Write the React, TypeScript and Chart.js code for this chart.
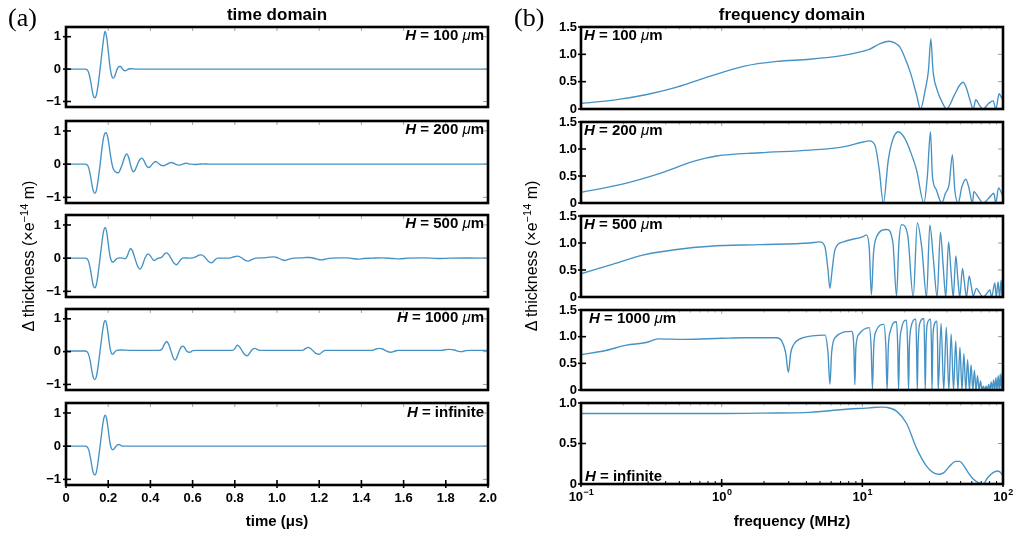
import React, { useEffect, useRef } from 'react';
import { Chart, registerables } from 'chart.js';

Chart.register(...registerables);

type Pt = [number, number];

// ---------------- tick values / labels ----------------
const timeTicks = [0, 0.2, 0.4, 0.6, 0.8, 1.0, 1.2, 1.4, 1.6, 1.8, 2.0];
const freqMajor = [0.1, 1, 10, 100];
const freqExp = ['−1', '0', '1', '2'];
const freqMinor = [0.2, 0.3, 0.4, 0.5, 0.6, 0.7, 0.8, 0.9, 2, 3, 4, 5, 6, 7, 8, 9, 20, 30, 40, 50, 60, 70, 80, 90];
const timeYTicks = [-1, 0, 1];
const freqYTicks = [0, 0.5, 1.0, 1.5];
const infYTicks = [0, 0.5, 1.0];

// ---------------- time domain series (t in µs, value ×e-14 m) ----------------
const td100: Pt[] = [[0,0],[0.09,0],[0.1,-0.02],[0.108,-0.12],[0.116,-0.35],[0.123,-0.62],[0.13,-0.83],[0.137,-0.89],[0.144,-0.8],[0.15,-0.58],[0.156,-0.3],[0.162,0.03],[0.168,0.38],[0.174,0.72],[0.18,1.02],[0.185,1.16],[0.19,1.08],[0.196,0.82],[0.202,0.45],[0.208,0.1],[0.214,-0.14],[0.219,-0.25],[0.224,-0.28],[0.231,-0.22],[0.238,-0.08],[0.245,0.03],[0.252,0.08],[0.258,0.08],[0.266,0.02],[0.274,-0.04],[0.282,-0.05],[0.29,-0.02],[0.3,0.01],[0.31,0.01],[0.33,0],[2.0,0]];

const td200: Pt[] = [[0,0],[0.09,0],[0.1,-0.02],[0.108,-0.12],[0.116,-0.35],[0.123,-0.62],[0.13,-0.82],[0.137,-0.88],[0.144,-0.79],[0.15,-0.57],[0.157,-0.25],[0.164,0.12],[0.171,0.5],[0.178,0.8],[0.184,0.93],[0.19,0.95],[0.196,0.86],[0.203,0.62],[0.21,0.3],[0.218,0.0],[0.226,-0.17],[0.236,-0.24],[0.248,-0.26],[0.258,-0.15],[0.268,0.02],[0.278,0.22],[0.288,0.31],[0.297,0.2],[0.305,0.0],[0.312,-0.16],[0.319,-0.23],[0.328,-0.17],[0.339,0.0],[0.35,0.14],[0.359,0.18],[0.368,0.12],[0.377,0.0],[0.385,-0.08],[0.392,-0.1],[0.4,-0.07],[0.409,0.0],[0.418,0.06],[0.425,0.08],[0.433,0.05],[0.443,0.0],[0.452,-0.04],[0.461,-0.05],[0.47,-0.03],[0.48,0.0],[0.49,0.04],[0.5,0.05],[0.51,0.03],[0.518,0.0],[0.527,-0.02],[0.535,-0.03],[0.544,-0.02],[0.553,0.0],[0.562,0.02],[0.572,0.03],[0.582,0.01],[0.592,0.0],[0.611,-0.01],[0.63,0.0],[0.65,0.01],[0.68,0.0],[2.0,0]];

const td500: Pt[] = [[0,0],[0.09,0],[0.1,-0.02],[0.108,-0.12],[0.116,-0.35],[0.123,-0.62],[0.13,-0.84],[0.137,-0.89],[0.144,-0.8],[0.15,-0.57],[0.156,-0.28],[0.162,0.04],[0.168,0.35],[0.174,0.65],[0.18,0.86],[0.186,0.92],[0.192,0.82],[0.198,0.56],[0.204,0.25],[0.21,0.02],[0.217,-0.1],[0.224,-0.12],[0.232,-0.07],[0.242,-0.01],[0.256,0.01],[0.268,0.0],[0.28,-0.02],[0.29,0.06],[0.298,0.2],[0.306,0.29],[0.315,0.22],[0.325,0.03],[0.338,-0.22],[0.351,-0.33],[0.362,-0.22],[0.374,0.0],[0.383,0.1],[0.39,0.13],[0.4,0.07],[0.41,-0.03],[0.417,-0.07],[0.427,-0.04],[0.437,0.0],[0.447,0.01],[0.458,0.06],[0.467,0.13],[0.477,0.16],[0.488,0.1],[0.5,-0.03],[0.512,-0.15],[0.524,-0.2],[0.535,-0.12],[0.547,-0.02],[0.56,0.01],[0.58,0.0],[0.6,0.01],[0.615,0.04],[0.63,0.09],[0.643,0.1],[0.656,0.04],[0.67,-0.06],[0.68,-0.12],[0.69,-0.14],[0.703,-0.07],[0.718,0.0],[0.74,0.0],[0.77,0.0],[0.79,0.03],[0.812,0.06],[0.83,0.02],[0.848,-0.06],[0.864,-0.09],[0.882,-0.04],[0.9,0.0],[0.94,0.01],[0.965,0.03],[0.983,0.04],[1.0,0.02],[1.02,-0.04],[1.038,-0.07],[1.058,-0.03],[1.08,0.0],[1.12,0.01],[1.14,0.02],[1.156,0.02],[1.18,-0.01],[1.195,-0.04],[1.212,-0.05],[1.235,-0.02],[1.26,0.0],[1.3,0.01],[1.33,0.01],[1.355,-0.01],[1.385,-0.03],[1.41,-0.01],[1.45,0.0],[1.5,0.01],[1.55,-0.01],[1.58,-0.02],[1.62,0.0],[1.7,0.01],[1.76,-0.01],[1.82,0.0],[1.9,0.005],[2.0,0]];

const td1000: Pt[] = [[0,0.02],[0.09,0.02],[0.1,0.0],[0.108,-0.1],[0.116,-0.33],[0.123,-0.6],[0.13,-0.8],[0.137,-0.85],[0.144,-0.76],[0.15,-0.54],[0.156,-0.26],[0.162,0.05],[0.168,0.36],[0.174,0.66],[0.18,0.88],[0.186,0.95],[0.192,0.86],[0.198,0.62],[0.204,0.32],[0.21,0.07],[0.216,-0.06],[0.222,-0.08],[0.23,-0.02],[0.24,0.04],[0.26,0.05],[0.3,0.04],[0.44,0.04],[0.455,0.08],[0.466,0.22],[0.477,0.31],[0.487,0.22],[0.497,0.03],[0.507,-0.17],[0.517,-0.26],[0.527,-0.15],[0.537,0.03],[0.547,0.15],[0.556,0.17],[0.565,0.09],[0.575,0.0],[0.588,-0.02],[0.6,0.03],[0.62,0.04],[0.79,0.04],[0.8,0.09],[0.812,0.2],[0.824,0.13],[0.835,0.02],[0.847,-0.09],[0.859,-0.13],[0.87,-0.05],[0.882,0.06],[0.896,0.1],[0.908,0.06],[0.92,0.04],[1.12,0.04],[1.135,0.09],[1.148,0.13],[1.16,0.09],[1.172,0.02],[1.186,-0.06],[1.2,-0.08],[1.213,-0.02],[1.228,0.04],[1.45,0.04],[1.47,0.08],[1.485,0.1],[1.5,0.08],[1.515,0.03],[1.539,-0.02],[1.56,0.02],[1.575,0.04],[1.78,0.04],[1.8,0.06],[1.82,0.07],[1.84,0.05],[1.86,0.01],[1.875,0.0],[1.895,0.03],[1.92,0.04],[2.0,0.04]];

const tdInf: Pt[] = [[0,0],[0.09,0],[0.1,-0.02],[0.108,-0.12],[0.116,-0.35],[0.123,-0.62],[0.13,-0.82],[0.137,-0.87],[0.144,-0.78],[0.15,-0.56],[0.156,-0.28],[0.162,0.03],[0.168,0.34],[0.174,0.64],[0.18,0.86],[0.186,0.93],[0.192,0.84],[0.198,0.6],[0.204,0.3],[0.21,0.05],[0.216,-0.08],[0.222,-0.11],[0.228,-0.08],[0.236,-0.01],[0.244,0.04],[0.252,0.05],[0.26,0.02],[0.27,0],[2.0,0]];

// ---------------- frequency domain series (MHz, value ×e-14 m) ----------------
const fd100: Pt[] = [[0.1,0.1],[0.19,0.18],[0.3,0.27],[0.48,0.4],[0.83,0.6],[1.43,0.78],[2.46,0.87],[4.24,0.91],[7.32,0.98],[9.5,1.04],[11.2,1.09],[13.5,1.2],[15.5,1.24],[17,1.21],[18.5,1.13],[20.2,0.92],[22,0.66],[24.3,0.26],[25.9,0],[28,0.35],[29.5,0.7],[30.7,1.28],[31.8,0.7],[34,0.35],[37,0.12],[39.7,0],[45,0.25],[49,0.43],[52.1,0.49],[55,0.38],[58,0.18],[61.4,0],[64.1,0.17],[68,0.07],[72.2,0],[79,0.1],[85.1,0.15],[88.9,0],[93.9,0.28],[97,0.22],[100,0.17]];

const fd200: Pt[] = [[0.1,0.2],[0.19,0.34],[0.365,0.55],[0.63,0.77],[0.92,0.87],[1.87,0.93],[4.24,0.98],[7.32,1.04],[10.15,1.13],[11.2,1.15],[12.3,1.07],[13.2,0.61],[14.1,0],[15.3,0.8],[16.5,1.18],[18,1.32],[20,1.2],[22,0.95],[24.3,0.61],[27.4,0],[29,0.5],[30.5,1.32],[31.5,0.5],[33.5,0.25],[36.7,0],[39,0.18],[41.4,0.34],[43.7,0.89],[45.4,0.25],[48,0],[51,0.3],[54.4,0.44],[57,0.3],[60.7,0],[62,0.21],[67,0.1],[72.2,0],[80,0.1],[86,0.18],[88.9,0],[92.9,0.28],[100,0.12]];

const fd500: Pt[] = [[0.1,0.43],[0.16,0.59],[0.28,0.78],[0.48,0.88],[0.83,0.94],[1.87,0.97],[4.24,1.0],[4.99,1.02],[5.42,0.93],[5.7,0.5],[5.88,0.16],[6.1,0.5],[6.38,0.87],[7.32,1.02],[10.15,1.12],[10.7,1.15],[11.2,0.9],[11.6,0.04],[12.0,0.8],[12.6,1.11],[14.9,1.25],[16.5,1.0],[17.5,0.02],[18.2,1.0],[19.0,1.34],[21,1.15],[23.0,0],[24.6,1.37],[26.5,0.9],[28.6,0],[30.2,1.33],[32,0.7],[34.0,0],[35.9,1.2],[37.5,0.6],[39.2,0],[41.0,1.02],[42.6,0.5],[44.3,0],[46.2,0.76],[47.7,0.35],[49.3,0],[51.5,0.53],[53,0.3],[55.0,0],[57.5,0.39],[59.5,0.2],[61.4,0.02],[64.8,0.16],[68,0.08],[72.2,0.0],[76,0.05],[80.5,0.13],[83,0.0],[87.5,0.26],[89.5,0.0],[92.3,0.28],[94.5,0],[97,0.31],[98.5,0.0],[100,0.2]];

const fd1000: Pt[] = [[0.1,0.66],[0.15,0.74],[0.21,0.84],[0.29,0.89],[0.355,0.96],[0.54,0.95],[1.0,0.97],[1.43,0.98],[2.46,0.98],[2.67,0.92],[2.85,0.7],[2.98,0.33],[3.1,0.7],[3.23,0.84],[3.8,0.98],[5.42,1.03],[5.7,0.7],[5.88,0.11],[6.05,0.7],[6.38,0.98],[8.4,1.1],[8.7,0.8],[8.85,0.1],[9.0,0.8],[9.5,1.05],[11.2,1.17],[11.55,0.8],[11.8,0.02],[12.05,0.8],[12.5,1.1],[14.2,1.23],[14.7,0.8],[15.0,0],[15.3,0.8],[15.9,1.12],[17.5,1.28],[17.85,0.8],[18.1,0],[18.4,0.8],[19.0,1.15],[20.6,1.31],[21.0,0.8],[21.3,0],[21.6,0.8],[22.2,1.18],[24.0,1.33],[24.3,0.8],[24.6,0],[24.9,0.8],[25.6,1.25],[27.4,1.34],[27.7,0.8],[28.0,0],[28.4,0.9],[29.0,1.25],[30.6,1.33],[31.0,0.8],[31.3,0],[31.7,0.9],[32.3,1.2],[33.9,1.29],[34.3,0.8],[34.6,0],[36.3,1.25],[37.9,0],[39.5,1.18],[41.2,0],[42.8,1.05],[44.5,0],[46.1,0.92],[47.8,0],[49.4,0.8],[51.1,0],[52.7,0.68],[54.4,0],[56.0,0.57],[57.7,0],[59.3,0.47],[61.0,0],[62.6,0.37],[64.3,0],[65.9,0.27],[67.6,0],[69.2,0.17],[70.9,0],[72.5,0.07],[74.2,0],[75.8,0.07],[77.5,0],[79.1,0.11],[80.8,0],[82.4,0.15],[84.1,0],[85.7,0.19],[87.4,0],[89.0,0.23],[90.7,0],[92.3,0.27],[94.0,0],[95.6,0.3],[97.3,0],[98.9,0.34],[100,0.2]];

const fdInf: Pt[] = [[0.1,0.87],[0.5,0.87],[1.0,0.87],[2.0,0.875],[4.24,0.885],[7.32,0.92],[11.2,0.94],[13.5,0.95],[15,0.945],[17.5,0.9],[20.6,0.75],[24.3,0.44],[28.6,0.22],[31.9,0.14],[35.3,0.12],[38,0.14],[41.7,0.22],[46.2,0.28],[49.3,0.28],[52,0.24],[56.6,0.14],[60,0.08],[64.8,0.03],[72.2,0],[78,0.08],[85,0.14],[90.7,0.16],[95,0.15],[100,0.1]];

// ---------------- styling / layout ----------------
const FONT = '"Liberation Sans", Arial, Helvetica, sans-serif';
const LINE = '#4592c4';
const PAD = 6;
const PAGE_H = 535;

interface LabelPart { text: string; italic?: boolean; light?: boolean }
interface PanelSpec {
  kind: 'time' | 'freq';
  data: Pt[];
  frameTop: number;
  frameBottom: number;
  bottom: boolean;
  yMax: number;
  yMin: number;
  yTicks: number[];
  label: LabelPart[];
  labelAlign: 'left' | 'right';
  labelX: number;
  labelY: number;
}

const hLabel = (v: string): LabelPart[] => [
  { text: 'H', italic: true },
  { text: ` = ${v} ` },
  { text: 'μ', italic: true, light: true },
  { text: 'm' },
];
const hInf: LabelPart[] = [{ text: 'H', italic: true }, { text: ' = infinite' }];

const panels: PanelSpec[] = [
  { kind: 'time', data: td100, frameTop: 27, frameBottom: 107, bottom: false, yMin: -1.17, yMax: 1.3, yTicks: timeYTicks, label: hLabel('100'), labelAlign: 'right', labelX: 484, labelY: 40 },
  { kind: 'time', data: td200, frameTop: 121, frameBottom: 203, bottom: false, yMin: -1.17, yMax: 1.3, yTicks: timeYTicks, label: hLabel('200'), labelAlign: 'right', labelX: 484, labelY: 134 },
  { kind: 'time', data: td500, frameTop: 215, frameBottom: 297, bottom: false, yMin: -1.17, yMax: 1.3, yTicks: timeYTicks, label: hLabel('500'), labelAlign: 'right', labelX: 484, labelY: 228 },
  { kind: 'time', data: td1000, frameTop: 309, frameBottom: 390, bottom: false, yMin: -1.17, yMax: 1.3, yTicks: timeYTicks, label: hLabel('1000'), labelAlign: 'right', labelX: 484, labelY: 322 },
  { kind: 'time', data: tdInf, frameTop: 403, frameBottom: 485, bottom: true, yMin: -1.17, yMax: 1.3, yTicks: timeYTicks, label: hInf, labelAlign: 'right', labelX: 484, labelY: 417 },
  { kind: 'freq', data: fd100, frameTop: 27, frameBottom: 109, bottom: false, yMin: 0, yMax: 1.5, yTicks: freqYTicks, label: hLabel('100'), labelAlign: 'left', labelX: 584, labelY: 40 },
  { kind: 'freq', data: fd200, frameTop: 122, frameBottom: 203, bottom: false, yMin: 0, yMax: 1.5, yTicks: freqYTicks, label: hLabel('200'), labelAlign: 'left', labelX: 584, labelY: 135 },
  { kind: 'freq', data: fd500, frameTop: 216, frameBottom: 297, bottom: false, yMin: 0, yMax: 1.5, yTicks: freqYTicks, label: hLabel('500'), labelAlign: 'left', labelX: 584, labelY: 229 },
  { kind: 'freq', data: fd1000, frameTop: 310, frameBottom: 390, bottom: false, yMin: 0, yMax: 1.5, yTicks: freqYTicks, label: hLabel('1000'), labelAlign: 'left', labelX: 589, labelY: 323 },
  { kind: 'freq', data: fdInf, frameTop: 403, frameBottom: 484, bottom: true, yMin: 0, yMax: 1.0, yTicks: infYTicks, label: hInf, labelAlign: 'left', labelX: 585, labelY: 481 },
];

function geometry(s: PanelSpec) {
  const isTime = s.kind === 'time';
  const left = isTime ? 0 : 510;
  const width = isTime ? 500 : 507;
  const yW = isTime ? 66 : 71;
  const padRight = isTime ? 12 : 14;
  const top = s.frameTop - PAD;
  const height = s.bottom ? PAGE_H - top : s.frameBottom - s.frameTop + 2 * PAD;
  return { left, width, yW, padRight, top, height };
}

function line(ctx: CanvasRenderingContext2D, x1: number, y1: number, x2: number, y2: number) {
  ctx.beginPath();
  ctx.moveTo(x1, y1);
  ctx.lineTo(x2, y2);
  ctx.stroke();
}

function decorPlugin(s: PanelSpec, g: ReturnType<typeof geometry>) {
  return {
    id: 'decor',
    afterDraw(chart: any) {
      const ctx: CanvasRenderingContext2D = chart.ctx;
      const a = chart.chartArea;
      const xs = chart.scales.x;
      const ys = chart.scales.y;
      ctx.save();
      // y ticks
      for (const v of s.yTicks) {
        const py = ys.getPixelForValue(v);
        ctx.strokeStyle = '#000';
        ctx.lineWidth = 1.6;
        line(ctx, a.left - 3, py, a.left + 5, py);
        ctx.strokeStyle = '#9a9a9a';
        ctx.lineWidth = 1;
        line(ctx, a.right - 5, py, a.right, py);
      }
      // x ticks
      const majors = s.kind === 'time' ? timeTicks : freqMajor;
      const minors = s.kind === 'time' ? [] : freqMinor;
      ctx.strokeStyle = '#a8a8a8';
      ctx.lineWidth = 1;
      for (const v of majors) {
        const px = xs.getPixelForValue(v);
        line(ctx, px, a.top, px, a.top + 4);
      }
      for (const v of minors) {
        const px = xs.getPixelForValue(v);
        line(ctx, px, a.top, px, a.top + 2.5);
      }
      if (s.bottom) {
        ctx.strokeStyle = '#000';
        ctx.lineWidth = 1.6;
        for (const v of majors) {
          const px = xs.getPixelForValue(v);
          line(ctx, px, a.bottom - 5, px, a.bottom + 3);
        }
        ctx.lineWidth = 1;
        for (const v of minors) {
          const px = xs.getPixelForValue(v);
          line(ctx, px, a.bottom - 3, px, a.bottom);
        }
        if (s.kind === 'freq') {
          ctx.fillStyle = '#000';
          ctx.textBaseline = 'alphabetic';
          ctx.textAlign = 'left';
          freqMajor.forEach((v, i) => {
            const px = xs.getPixelForValue(v);
            ctx.font = `bold 13px ${FONT}`;
            const wb = ctx.measureText('10').width;
            ctx.font = `bold 9px ${FONT}`;
            const we = ctx.measureText(freqExp[i]).width;
            const x0 = px - (wb + we) / 2;
            const by = a.bottom + 17;
            ctx.font = `bold 13px ${FONT}`;
            ctx.fillText('10', x0, by);
            ctx.font = `bold 9px ${FONT}`;
            ctx.fillText(freqExp[i], x0 + wb + 0.5, by - 6);
          });
        }
      }
      // frame
      ctx.strokeStyle = '#000';
      ctx.lineWidth = 2.6;
      ctx.strokeRect(a.left, a.top, a.right - a.left, a.bottom - a.top);
      // H label
      ctx.fillStyle = '#000';
      ctx.textBaseline = 'alphabetic';
      ctx.textAlign = 'left';
      const fonts = s.label.map((p) =>
        `${p.italic ? 'italic ' : ''}${p.light ? '' : 'bold '}15px ${FONT}`);
      const widths = s.label.map((p, i) => {
        ctx.font = fonts[i];
        return ctx.measureText(p.text).width;
      });
      const total = widths.reduce((m, w) => m + w, 0);
      let cx = (s.labelAlign === 'right' ? s.labelX - total : s.labelX) - g.left;
      const cy = s.labelY - g.top;
      s.label.forEach((p, i) => {
        ctx.font = fonts[i];
        ctx.fillText(p.text, cx, cy);
        cx += widths[i];
      });
      ctx.restore();
    },
  };
}

function buildConfig(s: PanelSpec): any {
  const g = geometry(s);
  const isTime = s.kind === 'time';
  const tickFont = { family: FONT, size: 13, weight: 'bold' as const };
  return {
    type: 'line',
    data: {
      datasets: [
        {
          data: s.data.map(([x, y]) => ({ x, y })),
          borderColor: LINE,
          borderWidth: 1.35,
          pointRadius: 0,
          fill: false,
          cubicInterpolationMode: 'monotone',
        },
      ],
    },
    options: {
      animation: false,
      responsive: false,
      devicePixelRatio: 1,
      events: [],
      layout: { padding: { top: PAD, bottom: s.bottom ? 0 : PAD, left: 0, right: g.padRight } },
      plugins: { legend: { display: false }, tooltip: { enabled: false }, title: { display: false } },
      scales: {
        x: {
          type: isTime ? 'linear' : 'logarithmic',
          min: isTime ? 0 : 0.1,
          max: isTime ? 2 : 100,
          display: s.bottom,
          grid: { display: false, drawTicks: false },
          border: { display: false },
          afterBuildTicks: (sc: any) => {
            sc.ticks = (isTime ? timeTicks : freqMajor).map((v) => ({ value: v }));
          },
          afterFit: (sc: any) => {
            sc.height = s.bottom ? PAGE_H - s.frameBottom : 0;
            sc.paddingLeft = 0;
            sc.paddingRight = 0;
          },
          ticks: {
            autoSkip: false,
            maxRotation: 0,
            minRotation: 0,
            padding: 6,
            font: tickFont,
            color: '#000',
            callback: (v: number) => (isTime ? (v === 0 ? '0' : v.toFixed(1)) : ''),
          },
          title: {
            display: true,
            text: isTime ? 'time (μs)' : 'frequency (MHz)',
            color: '#000',
            font: { family: FONT, size: 15, weight: 'bold' },
            padding: { top: 0, bottom: 4 },
          },
        },
        y: {
          type: 'linear',
          min: s.yMin,
          max: s.yMax,
          grid: { display: false, drawTicks: false },
          border: { display: false },
          afterBuildTicks: (sc: any) => {
            sc.ticks = s.yTicks.map((v) => ({ value: v }));
          },
          afterFit: (sc: any) => {
            sc.width = g.yW;
            sc.paddingTop = 0;
            sc.paddingBottom = 0;
          },
          ticks: {
            autoSkip: false,
            padding: isTime ? 5 : 4,
            font: tickFont,
            color: '#000',
            callback: (v: number) =>
              isTime ? (v < 0 ? '−' + Math.abs(v) : String(v)) : v === 0 ? '0' : v.toFixed(1),
          },
        },
      },
    },
    plugins: [decorPlugin(s, g)],
  };
}

function Panel({ spec }: { spec: PanelSpec }) {
  const ref = useRef<HTMLCanvasElement>(null);
  const g = geometry(spec);
  useEffect(() => {
    const chart = new Chart(ref.current as HTMLCanvasElement, buildConfig(spec));
    return () => chart.destroy();
  }, []);
  return (
    <canvas
      ref={ref}
      width={g.width}
      height={g.height}
      style={{ position: 'absolute', left: g.left, top: g.top, width: g.width, height: g.height }}
    />
  );
}

function YTitle({ cx }: { cx: number }) {
  return (
    <div
      style={{
        position: 'absolute',
        left: cx - 120,
        top: 256 - 10,
        width: 240,
        height: 20,
        lineHeight: '20px',
        textAlign: 'center',
        fontFamily: FONT,
        fontSize: 16,
        color: '#000',
        transform: 'rotate(-90deg)',
        whiteSpace: 'nowrap',
      }}
    >
      Δ thickness (×e<sup style={{ fontSize: 11, lineHeight: 0 }}>−14</sup> m)
    </div>
  );
}

export default function App() {
  const letter = (x: number, t: string) => (
    <div
      style={{
        position: 'absolute',
        left: x,
        top: 5,
        fontFamily: '"Liberation Serif", "Times New Roman", serif',
        fontSize: 26,
        lineHeight: '26px',
        color: '#000',
      }}
    >
      {t}
    </div>
  );
  const title = (cx: number, t: string) => (
    <div
      style={{
        position: 'absolute',
        left: cx - 150,
        width: 300,
        top: 6,
        textAlign: 'center',
        fontFamily: FONT,
        fontWeight: 'bold',
        fontSize: 17,
        lineHeight: '17px',
        color: '#000',
      }}
    >
      {t}
    </div>
  );
  return (
    <div style={{ position: 'absolute', left: 0, top: 0, width: 1017, height: 535, background: '#fff', overflow: 'hidden' }}>
      {panels.map((p, i) => (
        <Panel key={i} spec={p} />
      ))}
      {letter(8, '(a)')}
      {letter(514, '(b)')}
      {title(277, 'time domain')}
      {title(792, 'frequency domain')}
      <YTitle cx={29} />
      <YTitle cx={532} />
    </div>
  );
}
